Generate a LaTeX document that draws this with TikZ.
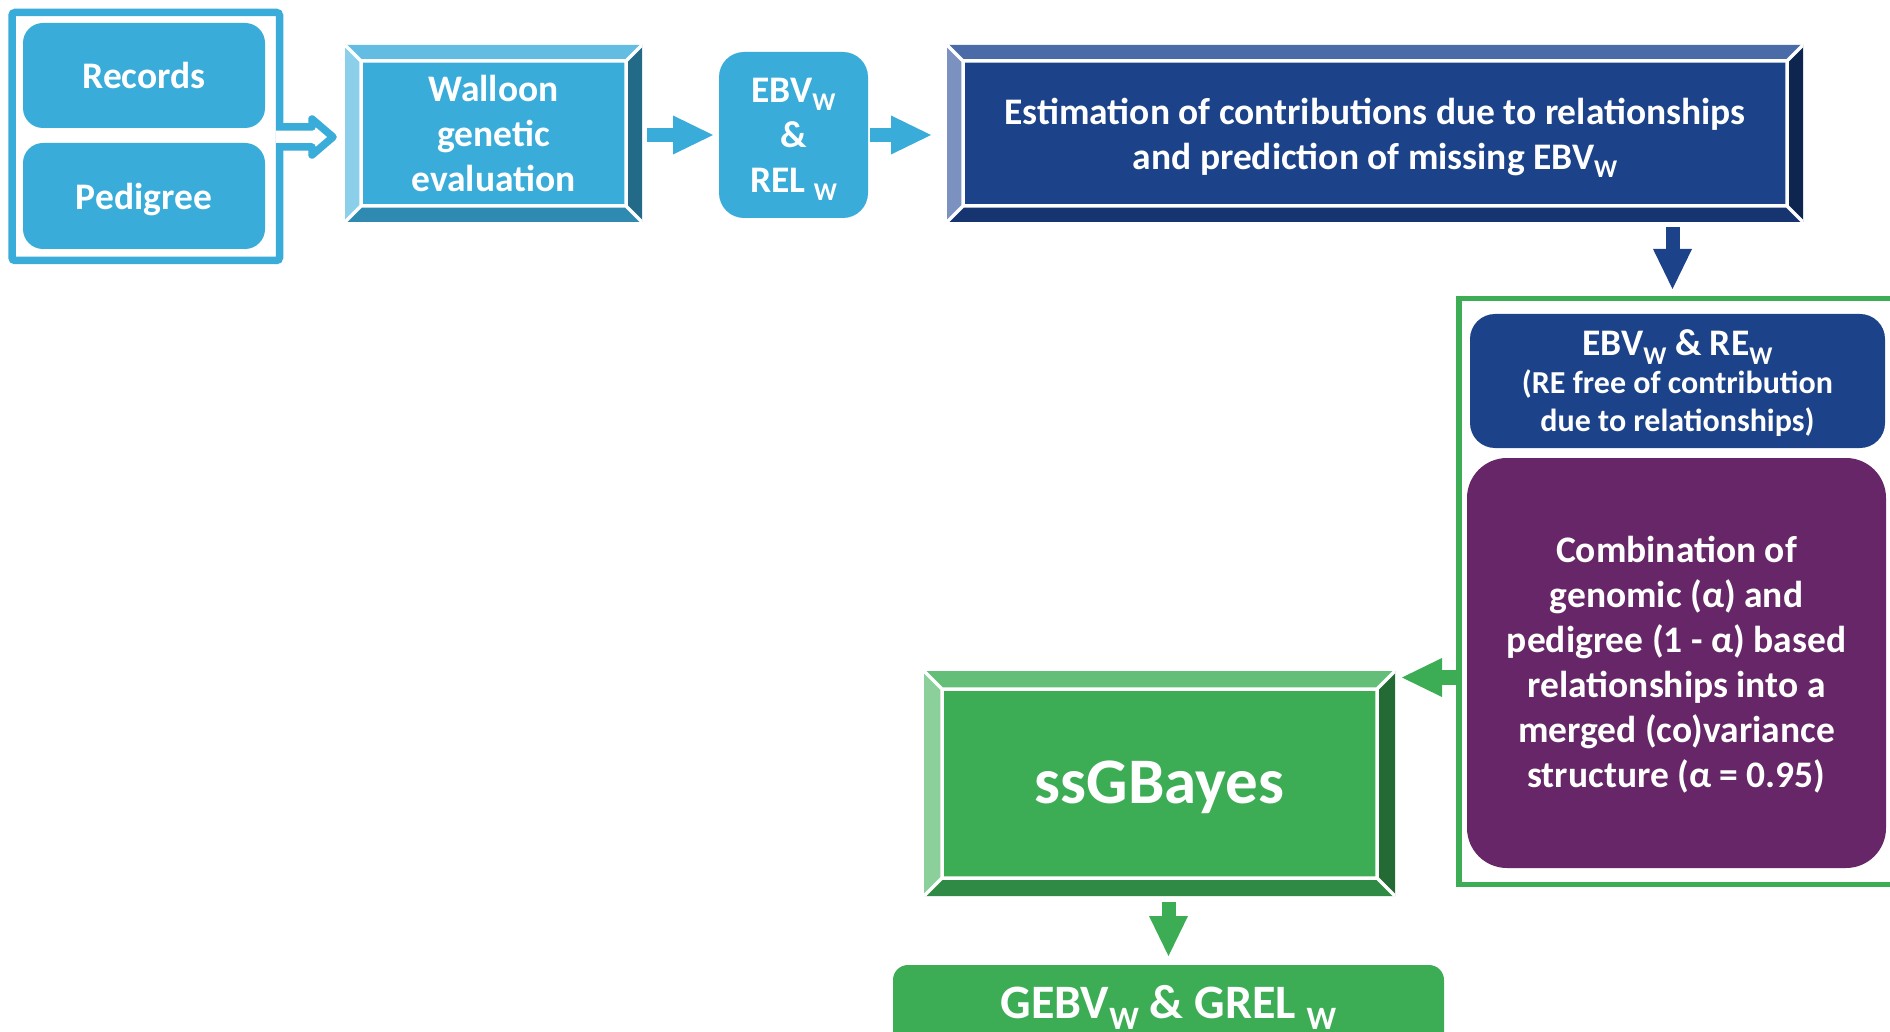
\documentclass[tikz,border=0pt]{standalone}
\usepackage{fontspec}
\setmainfont{Carlito}
\usepackage{graphicx}
\usetikzlibrary{arrows.meta,calc}

% palette
\definecolor{lblue}{HTML}{3AACDA}
\definecolor{lbTop}{HTML}{63BDE3}
\definecolor{lbLeft}{HTML}{8CCFEB}
\definecolor{lbBot}{HTML}{2E8AB0}
\definecolor{lbRight}{HTML}{236A89}
\definecolor{dblue}{HTML}{1C4289}
\definecolor{dbTop}{HTML}{4A6BA8}
\definecolor{dbLeft}{HTML}{7B92C1}
\definecolor{dbBot}{HTML}{16346F}
\definecolor{dbRight}{HTML}{0E2550}
\definecolor{grn}{HTML}{3DAD55}
\definecolor{gTop}{HTML}{63BE77}
\definecolor{gLeft}{HTML}{8BD09A}
\definecolor{gBot}{HTML}{2F8A45}
\definecolor{gRight}{HTML}{236A34}
\definecolor{purp}{HTML}{662667}

% lowered capital W used as an index
\newcommand\subw{\raisebox{-0.22em}{\scalebox{0.68}{W}}}

\tikzset{
  box/.style={text=white, align=center, inner sep=0pt, outer sep=0pt},
  rbox/.style={box, fill=#1, rounded corners=20pt},
  frame/.style={draw=#1, inner sep=0pt, outer sep=0pt},
  bevel/.style n args={6}{box, fill=#1,
    path picture={
      \coordinate (bvA) at (path picture bounding box.north west);
      \coordinate (bvB) at (path picture bounding box.north east);
      \coordinate (bvC) at (path picture bounding box.south east);
      \coordinate (bvD) at (path picture bounding box.south west);
      \coordinate (bva) at ($(bvA)+(#6,-#6)$);
      \coordinate (bvb) at ($(bvB)+(-#6,-#6)$);
      \coordinate (bvc) at ($(bvC)+(-#6,#6)$);
      \coordinate (bvd) at ($(bvD)+(#6,#6)$);
      \fill[#2] (bvA)--(bvB)--(bvb)--(bva)--cycle;
      \fill[#5] (bvB)--(bvC)--(bvc)--(bvb)--cycle;
      \fill[#4] (bvC)--(bvD)--(bvd)--(bvc)--cycle;
      \fill[#3] (bvD)--(bvA)--(bva)--(bvd)--cycle;
      \draw[white, line width=3.5pt, line join=miter]
        (bva)--(bvb)--(bvc)--(bvd)--cycle
        (bvA)--(bva) (bvB)--(bvb) (bvC)--(bvc) (bvD)--(bvd);
    }},
  barrow/.style={draw=#1, line width=14pt, line cap=butt,
    -{Triangle[length=40pt,width=39pt,line width=0pt]}},
}

\begin{document}
\begin{tikzpicture}[x=1pt, y=1pt, font=\bfseries\fontsize{37.5}{45}\selectfont]
\path[use as bounding box, clip] (0,-1032) rectangle (1890,0);
\fill[white] (0,-1032) rectangle (1890,0);

% input block
\node[frame=lblue, line width=7.5pt, rounded corners=3pt,
      minimum width=267.5pt, minimum height=248pt] (inputs) at (145.75,-136.5) {};
\node[rbox=lblue, text depth=0pt, minimum width=242pt, minimum height=105pt] (records) at (144,-75.5) {Records};
\node[rbox=lblue, text depth=0pt, minimum width=242pt, minimum height=106pt] (pedigree) at (144,-196) {Pedigree};

% outlined arrow leaving the input block
\draw[lblue, line width=7.5pt, line join=round, fill=white]
  ($(inputs.east)+(-3.5,9.5)$) -- ++(36,0) -- ++(0,8)
  -- ($(inputs.east)+(53.5,-0.5)$) -- ++(-21,-18) -- ++(0,8)
  -- ($(inputs.east)+(-3.5,-10.5)$);

% top row
\node[bevel={lblue}{lbTop}{lbLeft}{lbBot}{lbRight}{16},
      minimum width=297pt, minimum height=177pt] (walloon) at (493.5,-133.5)
      {Walloon\\genetic\\evaluation};
\node[rbox=lblue, rounded corners=25pt, text depth=0pt, minimum width=149pt, minimum height=166pt]
      (ebv) at (793.5,-135) {EBV\subw\\\&\\REL \subw};
\node[bevel={dblue}{dbTop}{dbLeft}{dbBot}{dbRight}{16}, text depth=0pt,
      minimum width=856pt, minimum height=177pt] (estim) at (1375,-133.5)
      {Estimation of contributions due to relationships\\and prediction of missing EBV\subw};

% right-hand group
\node[frame=grn, line width=5.5pt, minimum width=451pt, minimum height=586pt]
      (group) at (1684.5,-591.5) {};
\node[rbox=dblue, rounded corners=25pt, text depth=0pt, minimum width=415pt, minimum height=134pt,
      font=\bfseries\fontsize{32}{38}\selectfont] (ebvre) at (1677.5,-381)
      {{\fontsize{37.5}{38}\selectfont EBV\subw{} \& RE\subw}\\(RE free of contribution\\due to relationships)};
\node[rbox=purp, rounded corners=40pt, text depth=2pt, minimum width=419pt, minimum height=410pt]
      (comb) at (1676.5,-663)
      {Combination of\\genomic (α) and\\pedigree (1 - α) based\\relationships into a\\merged (co)variance\\structure (α = 0.95)};

% lower blocks
\node[bevel={grn}{gTop}{gLeft}{gBot}{gRight}{18}, text depth=3pt,
      minimum width=471pt, minimum height=225pt,
      font=\bfseries\fontsize{65}{72}\selectfont] (ss) at (1159.5,-783.5) {ssGBayes};
\node[rbox=grn, rounded corners=15pt, minimum width=551pt, minimum height=85pt,
      font=\bfseries\fontsize{48}{56}\selectfont] (gebv) at (1168.5,-1007.5)
      {GEBV\subw{} \& GREL \subw};

% connectors
\coordinate (dnx) at (1672.5,0);
\coordinate (lfy) at (0,-677.5);
\draw[barrow=lblue] ([xshift=5pt]walloon.east |- ebv.west) -- ([xshift=-6pt]ebv.west);
\draw[barrow=lblue] ([xshift=2pt]ebv.east) -- ([xshift=-16pt]estim.west |- ebv.east);
\draw[barrow=dblue] ($(estim.south -| dnx)+(0,-5)$) -- ($(group.north -| dnx)+(0,9.5)$);
\draw[barrow=grn, line width=15pt] ($(group.west |- lfy)+(2,0)$) -- ($(ss.east |- lfy)+(7,0)$);
\draw[barrow=grn] ($(ss.south -| gebv.north)+(0,-6)$) -- ($(gebv.north)+(0,9)$);
\end{tikzpicture}
\end{document}
